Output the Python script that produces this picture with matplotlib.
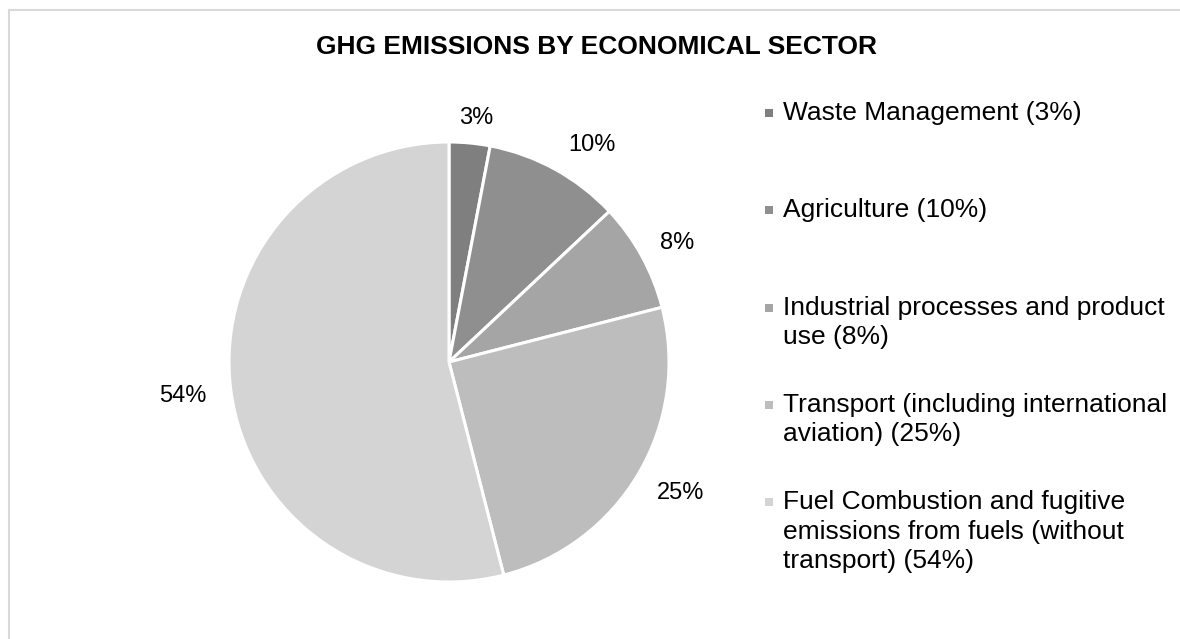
import matplotlib
matplotlib.use("Agg")
import matplotlib.pyplot as plt
from matplotlib.patches import Rectangle
from matplotlib.lines import Line2D
import numpy as np

plt.rcParams['font.family'] = ['Liberation Sans', 'DejaVu Sans']

# Emission shares by sector (percent)
sectors = [
    "Waste Management",
    "Agriculture",
    "Industrial processes and product\nuse",
    "Transport (including international\naviation)",
    "Fuel Combustion and fugitive\nemissions from fuels (without\ntransport)",
]
shares = [3, 10, 8, 25, 54]
colors = ["#7f7f7f", "#8f8f8f", "#a5a5a5", "#bdbdbd", "#d4d4d4"]

W, H = 1180, 639
fig = plt.figure(figsize=(W / 100, H / 100), dpi=100)

# light chart-area border (top and left edges)
fig.lines.append(Line2D([8.5 / W, 1.01], [1 - 9.5 / H] * 2, transform=fig.transFigure,
                        color="#d9d9d9", linewidth=1.5))
fig.lines.append(Line2D([8.5 / W] * 2, [-0.01, 1 - 9.5 / H], transform=fig.transFigure,
                        color="#d9d9d9", linewidth=1.5))

fig.text(596 / W, 1 - 47 / H, "GHG EMISSIONS BY ECONOMICAL SECTOR",
         ha="center", va="center", fontsize=19, fontweight="bold", color="black")

# pie axes: centre (449, 362) px, radius 220 px
cx, cy, r = 449, 362, 220
ax = fig.add_axes([(cx - r) / W, (H - cy - r) / H, 2 * r / W, 2 * r / H])
wedges, _ = ax.pie(shares, colors=colors, startangle=90, counterclock=False,
                   radius=1, wedgeprops=dict(edgecolor="white", linewidth=2.2))
ax.set_xlim(-1, 1)
ax.set_ylim(-1, 1)
ax.set_aspect("equal")
ax.axis("off")

# percentage labels just outside each wedge
label_r = [1.115, 1.18, 1.17, 1.21, 1.22]
label_da = [-1.0, -4.5, -1.2, 1.0, 0.0]
for w, v, lr, da in zip(wedges, shares, label_r, label_da):
    ang = np.deg2rad((w.theta1 + w.theta2) / 2 + da)
    ax.text(lr * np.cos(ang), lr * np.sin(ang), f"{v}%", ha="center", va="center",
            fontsize=17, color="#000000", clip_on=False)

# legend drawn as square markers with wrapped text
lx, ly0, dy = 769, 113, 97.3
for i, (name, v, c) in enumerate(zip(sectors, shares, colors)):
    y = ly0 + i * dy
    fig.patches.append(Rectangle(((lx - 4) / W, (H - y - 4) / H), 8 / W, 8 / H,
                                 transform=fig.transFigure, facecolor=c, edgecolor="none"))
    fig.text(783 / W, 1 - (y - 12) / H, f"{name} ({v}%)", ha="left", va="top",
             fontsize=19, color="#000000", linespacing=1.29)

fig.savefig("out.png", dpi=100)
